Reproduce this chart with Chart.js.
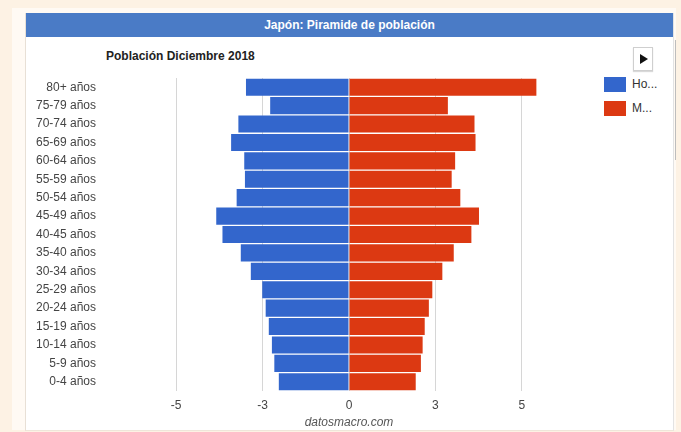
<!DOCTYPE html>
<html lang="es">
<head>
<meta charset="utf-8">
<title>Japón: Piramide de población</title>
<script src="https://cdn.jsdelivr.net/npm/chart.js@4.4.1/dist/chart.umd.min.js"></script>
<style>
  html, body { margin: 0; padding: 0; }
  body { width: 681px; height: 432px; background: #fdf2e4; position: relative; overflow: hidden;
         font-family: "Liberation Sans", Arial, sans-serif; }
  #outer { position: absolute; left: 12px; top: 8px; width: 664px; height: 422px; background: #fffaf4; }
  #panel { position: absolute; left: 25px; top: 13px; width: 647px; height: 417px; background: #fff;
           border-left: 1px solid #e8e0d6; border-right: 1px solid #e3e3e3; border-bottom: 1px solid #efe6da; }
  #header { position: absolute; left: 0; top: 0; width: 100%; height: 24px; background: #4a7bc6;
            color: #fff; font-weight: bold; font-size: 12px; line-height: 24px; text-align: center; }
  #scroll { position: absolute; left: 675px; top: 40px; width: 1px; height: 120px; background: #bdbdbd; }
  #subtitle { position: absolute; left: 106px; top: 49px; font-size: 12px; font-weight: bold; color: #222; }
  #play { position: absolute; left: 633px; top: 47px; width: 18px; height: 22px; border: 1px solid #cfcfcf;
          background: #fff; box-shadow: 0 1px 1px rgba(0,0,0,0.15); }
  #play::after { content: ""; position: absolute; left: 6px; top: 6px; border-left: 8px solid #111;
                 border-top: 5px solid transparent; border-bottom: 5px solid transparent; }
  .leg { position: absolute; left: 604px; font-size: 12px; color: #333; }
  .leg span.box { position: absolute; left: 0; top: 0; width: 22px; height: 15px; }
  .leg span.txt { position: absolute; left: 28px; top: 0; line-height: 15px; white-space: nowrap; }
  #chartWrap { position: absolute; left: 0; top: 0; width: 681px; height: 432px; }
</style>
</head>
<body>
<div id="outer"></div>
<div id="panel"><div id="header">Japón: Piramide de población</div></div>
<div id="scroll"></div>
<div id="subtitle">Población Diciembre 2018</div>
<div id="play"></div>
<div class="leg" style="top:77px"><span class="box" style="background:#3366cc"></span><span class="txt">Ho...</span></div>
<div class="leg" style="top:101px"><span class="box" style="background:#dc3912"></span><span class="txt">M...</span></div>
<div id="chartWrap"><canvas id="chart" width="681" height="432"></canvas></div>
<script>
// Age groups, top to bottom
const categories = ['80+ años', '75-79 años', '70-74 años', '65-69 años', '60-64 años', '55-59 años',
  '50-54 años', '45-49 años', '40-45 años', '35-40 años', '30-34 años', '25-29 años', '20-24 años',
  '15-19 años', '10-14 años', '5-9 años', '0-4 años'];

// Share of total population (%), men drawn to the left as negatives
const hombres = [-2.98, -2.28, -3.20, -3.41, -3.03, -3.01, -3.25, -3.84, -3.66, -3.13, -2.84,
  -2.51, -2.41, -2.32, -2.23, -2.16, -2.03];
const mujeres = [5.42, 2.86, 3.63, 3.66, 3.07, 2.97, 3.22, 3.76, 3.54, 3.03, 2.70, 2.41, 2.31,
  2.19, 2.13, 2.08, 1.93];

// Horizontal axis gridlines and their (rounded) labels
const tickValues = [-5, -2.5, 0, 2.5, 5];
const tickLabels = ['-5', '-3', '0', '3', '5'];

Chart.defaults.font.family = '"Liberation Sans", Arial, sans-serif';

new Chart(document.getElementById('chart'), {
  type: 'bar',
  data: {
    labels: categories,
    datasets: [
      { label: 'Hombres', data: hombres, backgroundColor: '#3366cc', barPercentage: 0.93, categoryPercentage: 1 },
      { label: 'Mujeres', data: mujeres, backgroundColor: '#dc3912', barPercentage: 0.93, categoryPercentage: 1 }
    ]
  },
  options: {
    indexAxis: 'y',
    responsive: false,
    animation: false,
    devicePixelRatio: 1,
    layout: { padding: { left: 0, right: 90, top: 78, bottom: 0 } },
    plugins: { legend: { display: false }, tooltip: { enabled: false } },
    scales: {
      x: {
        stacked: true,
        min: -7,
        max: 7,
        afterBuildTicks: (scale) => { scale.ticks = tickValues.map(v => ({ value: v })); },
        afterFit: (scale) => { scale.height = 41; },
        grid: { color: '#d6d6d6', lineWidth: 1, drawTicks: false },
        border: { display: false },
        ticks: {
          color: '#444', font: { size: 12 }, padding: 7, maxRotation: 0, autoSkip: false,
          callback: (value, index) => tickLabels[index]
        },
        title: {
          display: true, text: 'datosmacro.com', color: '#555',
          font: { size: 12, style: 'italic' }, padding: { top: 0, bottom: 2 }
        }
      },
      y: {
        stacked: true,
        afterFit: (scale) => { scale.width = 107; },
        grid: { display: false, drawTicks: false },
        border: { display: false },
        ticks: { color: '#444', font: { size: 12 }, padding: 11, autoSkip: false }
      }
    }
  }
});
</script>
</body>
</html>
